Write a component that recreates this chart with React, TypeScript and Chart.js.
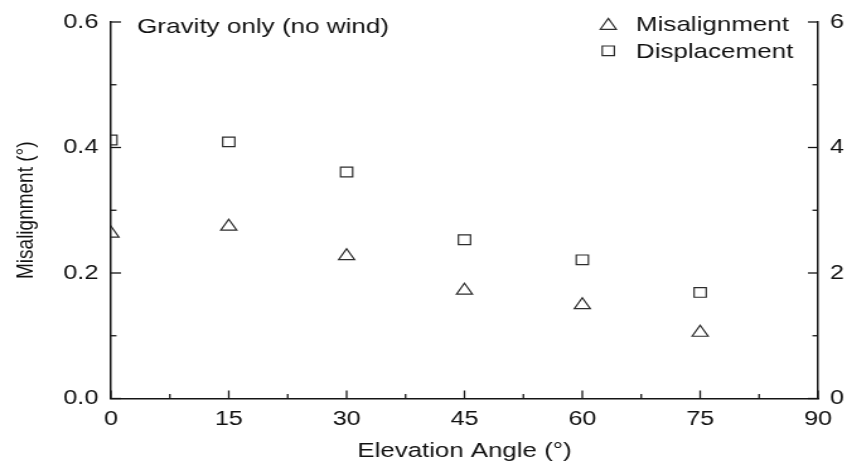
import { useEffect, useRef } from 'react';
import { Chart, registerables } from 'chart.js';

Chart.register(...registerables);

// Measured points
const angles = [0, 15, 30, 45, 60, 75];
const misalignment = [0.263, 0.274, 0.227, 0.172, 0.149, 0.105];
const displacement = [4.12, 4.09, 3.61, 2.53, 2.21, 1.69];

// Axis ranges and tick steps
const angleRange = [0, 90];
const angleStep = 15;
const misalignmentRange = [0, 0.6];
const misalignmentStep = 0.2;
const displacementRange = [0, 6];
const displacementStep = 2;

// Text
const seriesNames = ['Misalignment', 'Displacement'];
const panelNote = 'Gravity only (no wind)';
const xTitle = 'Elevation Angle (°)';
const yTitle = 'Misalignment (°)';

// The figure is drawn on a narrower backing canvas and widened by CSS,
// which gives the broad lettering and symbols of the original plot.
const OUT_W = 847;
const OUT_H = 467;
const BACK_W = 672;

const FONT = "'Liberation Sans', Arial, sans-serif";
const INK = '#2c2c2c';
const AXIS = '#151515';
const TEXT = '#111111';

const MAJOR_LEN = 8;
const MINOR_LEN = 4.4;

// Ticks that point into the plot, with a minor tick between each pair of majors
const innerTicks = {
  id: 'innerTicks',
  afterDraw(chart: any) {
    const { ctx, chartArea } = chart;
    ctx.save();
    ctx.strokeStyle = AXIS;
    ctx.lineWidth = 1.3;
    const drawFor = (id: string) => {
      const scale = chart.scales[id];
      const majors: number[] = scale.ticks.map((t: any) => t.value);
      const minors: number[] = [];
      for (let i = 0; i < majors.length - 1; i++) minors.push((majors[i] + majors[i + 1]) / 2);
      const mark = (v: number, len: number) => {
        const p = scale.getPixelForValue(v);
        ctx.beginPath();
        if (id === 'x') {
          ctx.moveTo(p, chartArea.bottom);
          ctx.lineTo(p, chartArea.bottom - len);
        } else if (id === 'y') {
          ctx.moveTo(chartArea.left, p);
          ctx.lineTo(chartArea.left + len, p);
        } else {
          ctx.moveTo(chartArea.right, p);
          ctx.lineTo(chartArea.right - len, p);
        }
        ctx.stroke();
      };
      majors.forEach((v) => mark(v, MAJOR_LEN));
      minors.forEach((v) => mark(v, MINOR_LEN));
    };
    ['x', 'y', 'y2'].forEach(drawFor);
    ctx.restore();
  },
};

function drawSymbol(ctx: CanvasRenderingContext2D, style: string, x: number, y: number, r: number) {
  ctx.beginPath();
  if (style === 'triangle') {
    let rad = 0;
    ctx.moveTo(x + Math.sin(rad) * r, y - Math.cos(rad) * r);
    rad += (2 * Math.PI) / 3;
    ctx.lineTo(x + Math.sin(rad) * r, y - Math.cos(rad) * r);
    rad += (2 * Math.PI) / 3;
    ctx.lineTo(x + Math.sin(rad) * r, y - Math.cos(rad) * r);
    ctx.closePath();
  } else {
    const s = Math.SQRT1_2 * r;
    ctx.rect(x - s, y - s, 2 * s, 2 * s);
  }
  ctx.stroke();
}

// Panel note in the upper left and the symbol key in the upper right
const annotations = {
  id: 'annotations',
  afterDraw(chart: any) {
    const { ctx } = chart;
    ctx.save();
    ctx.fillStyle = TEXT;
    ctx.font = `20.7px ${FONT}`;
    ctx.textAlign = 'left';
    ctx.textBaseline = 'alphabetic';
    ctx.fillText(panelNote, 108.7, 33.2);

    const keyX = 482.6;
    const textX = 504.6;
    const rowTop = 23.8;
    const rowGap = 27;
    chart.data.datasets.forEach((ds: any, i: number) => {
      const cy = rowTop + i * rowGap;
      ctx.strokeStyle = ds.borderColor;
      ctx.lineWidth = ds.borderWidth;
      const r = ds.pointRadius;
      const offset = ds.pointStyle === 'triangle' ? r / 4 : 0;
      drawSymbol(ctx, ds.pointStyle, keyX, cy + offset, r);
      ctx.fillStyle = TEXT;
      ctx.font = `20.6px ${FONT}`;
      ctx.fillText(ds.label, textX, cy + 7.2);
    });
    ctx.restore();
  },
};

export default function App() {
  const canvasRef = useRef<HTMLCanvasElement | null>(null);

  useEffect(() => {
    const canvas = canvasRef.current;
    if (!canvas) return;

    const chart = new Chart(canvas, {
      type: 'scatter',
      data: {
        datasets: [
          {
            label: seriesNames[0],
            data: angles.map((a, i) => ({ x: a, y: misalignment[i] })),
            yAxisID: 'y',
            pointStyle: 'triangle',
            pointRadius: 7.3,
            pointHoverRadius: 7.3,
            borderColor: INK,
            backgroundColor: 'rgba(0,0,0,0)',
            borderWidth: 1.2,
            pointBorderWidth: 1.2,
            clip: 0,
          },
          {
            label: seriesNames[1],
            data: angles.map((a, i) => ({ x: a, y: displacement[i] })),
            yAxisID: 'y2',
            pointStyle: 'rect',
            pointRadius: 6.8,
            pointHoverRadius: 6.8,
            borderColor: INK,
            backgroundColor: 'rgba(0,0,0,0)',
            borderWidth: 1.2,
            pointBorderWidth: 1.2,
            clip: 0,
          },
        ],
      },
      options: {
        responsive: false,
        animation: false,
        events: [],
        layout: { padding: { top: 13.3, left: 0, right: 0, bottom: 0 } },
        plugins: {
          legend: { display: false },
          tooltip: { enabled: false },
        },
        scales: {
          x: {
            type: 'linear',
            position: 'bottom',
            min: angleRange[0],
            max: angleRange[1],
            grid: { display: false, drawTicks: false },
            border: { display: true, color: AXIS, width: 1.5 },
            ticks: {
              stepSize: angleStep,
              color: TEXT,
              font: { family: FONT, size: 20 },
              padding: 8.5,
              maxRotation: 0,
              autoSkip: false,
            },
            title: {
              display: true,
              text: xTitle,
              color: TEXT,
              font: { family: FONT, size: 20.5 },
              padding: { top: 0, bottom: 3.7 },
            },
            afterFit: (s: any) => {
              s.height = 68.5;
            },
          },
          y: {
            type: 'linear',
            position: 'left',
            min: misalignmentRange[0],
            max: misalignmentRange[1],
            grid: { display: false, drawTicks: false },
            border: { display: true, color: AXIS, width: 1.5 },
            ticks: {
              stepSize: misalignmentStep,
              color: TEXT,
              font: { family: FONT, size: 20 },
              padding: 10,
              callback: (v: any) => Number(v).toFixed(1),
            },
            title: {
              display: true,
              text: yTitle,
              color: TEXT,
              font: { family: FONT, size: 19 },
              padding: { top: 9.5, bottom: 0 },
            },
            afterFit: (s: any) => {
              s.width = 88;
            },
          },
          y2: {
            type: 'linear',
            position: 'right',
            min: displacementRange[0],
            max: displacementRange[1],
            grid: { display: false, drawTicks: false },
            border: { display: true, color: AXIS, width: 1.5 },
            ticks: {
              stepSize: displacementStep,
              color: TEXT,
              font: { family: FONT, size: 20 },
              padding: 9.5,
            },
            afterFit: (s: any) => {
              s.width = 23;
            },
          },
        },
      },
      plugins: [innerTicks, annotations],
    } as any);

    return () => chart.destroy();
  }, []);

  return (
    <div style={{ position: 'absolute', left: 0, top: 0, width: OUT_W, height: OUT_H, background: '#fff' }}>
      <canvas
        ref={canvasRef}
        width={BACK_W}
        height={OUT_H}
        style={{ width: `${OUT_W}px`, height: `${OUT_H}px`, display: 'block' }}
      />
    </div>
  );
}
